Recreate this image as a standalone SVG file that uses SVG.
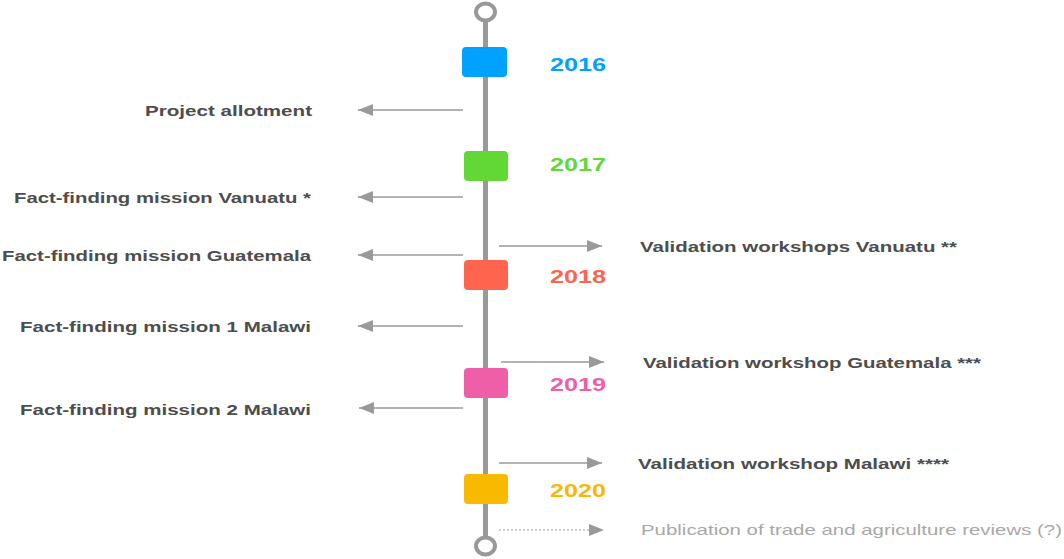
<svg xmlns="http://www.w3.org/2000/svg" width="1064" height="559" viewBox="0 0 1064 559">
  <style>
    .axis { stroke: #999999; stroke-width: 5; fill: none; }
    .cap { stroke: #999999; stroke-width: 4; fill: #ffffff; }
    .conn { stroke: #9a9a9a; stroke-width: 1.6; fill: none; }
    .dotted { stroke: #9a9a9a; stroke-width: 1.2; stroke-dasharray: 2 2; fill: none; }
    .label { font-family: "Liberation Sans", Arial, sans-serif; font-weight: bold; font-size: 15px; fill: #4d4d4d; }
    .faint { font-family: "Liberation Sans", Arial, sans-serif; font-size: 15px; fill: #a8a8a8; }
    .year { font-family: "Liberation Sans", Arial, sans-serif; font-weight: bold; font-size: 18px; }
  </style>
  <defs>
    <marker id="head" markerUnits="userSpaceOnUse" markerWidth="16" markerHeight="12" refX="15" refY="6" orient="auto">
      <path d="M0,0 L15,6 L0,12 Z" fill="#9a9a9a"/>
    </marker>
  </defs>

  <rect width="1064" height="559" fill="#ffffff"/>

  <!-- timeline axis -->
  <g id="axis">
    <line class="axis" x1="485.5" y1="21" x2="485.5" y2="537"/>
    <ellipse class="cap" cx="485.5" cy="12" rx="9.5" ry="8.5"/>
    <ellipse class="cap" cx="485.5" cy="546" rx="9.5" ry="8.5"/>
  </g>

  <!-- connectors -->
  <g id="connectors">
    <line class="conn" x1="463" y1="110" x2="358" y2="110" marker-end="url(#head)"/>
    <line class="conn" x1="463" y1="197" x2="358" y2="197" marker-end="url(#head)"/>
    <line class="conn" x1="463" y1="255" x2="358" y2="255" marker-end="url(#head)"/>
    <line class="conn" x1="463" y1="326" x2="358" y2="326" marker-end="url(#head)"/>
    <line class="conn" x1="463" y1="408" x2="359" y2="408" marker-end="url(#head)"/>
    <line class="conn" x1="499" y1="246" x2="602" y2="246" marker-end="url(#head)"/>
    <line class="conn" x1="501" y1="362" x2="604" y2="362" marker-end="url(#head)"/>
    <line class="conn" x1="499" y1="463" x2="602" y2="463" marker-end="url(#head)"/>
    <line class="dotted" x1="499" y1="530" x2="589" y2="530"/>
    <path d="M589,524 L604,530 L589,536 Z" fill="#9a9a9a"/>
  </g>

  <!-- year markers -->
  <g id="y2016">
    <rect x="462" y="47" width="45" height="30" rx="4" fill="#00a2ff"/>
    <text class="year" x="550" y="71" fill="#00a2ff" textLength="56" lengthAdjust="spacingAndGlyphs">2016</text>
  </g>
  <g id="y2017">
    <rect x="464" y="151" width="44" height="30" rx="4" fill="#61d836"/>
    <text class="year" x="550" y="171" fill="#61d836" textLength="56" lengthAdjust="spacingAndGlyphs">2017</text>
  </g>
  <g id="y2018">
    <rect x="464" y="260" width="44" height="30" rx="4" fill="#ff644e"/>
    <text class="year" x="550" y="283" fill="#ff644e" textLength="56" lengthAdjust="spacingAndGlyphs">2018</text>
  </g>
  <g id="y2019">
    <rect x="464" y="368" width="44" height="30" rx="4" fill="#ef5fa7"/>
    <text class="year" x="550" y="391" fill="#ef5fa7" textLength="56" lengthAdjust="spacingAndGlyphs">2019</text>
  </g>
  <g id="y2020">
    <rect x="464" y="474" width="44" height="30" rx="4" fill="#f8ba00"/>
    <text class="year" x="550" y="497" fill="#f8ba00" textLength="56" lengthAdjust="spacingAndGlyphs">2020</text>
  </g>

  <!-- events before the axis -->
  <g id="e-allotment">
    <text class="label" x="145" y="116" textLength="167" lengthAdjust="spacingAndGlyphs">Project allotment</text>
  </g>
  <g id="e-ffm-vanuatu">
    <text class="label" x="14" y="203" textLength="297" lengthAdjust="spacingAndGlyphs">Fact-finding mission Vanuatu *</text>
  </g>
  <g id="e-ffm-guatemala">
    <text class="label" x="2" y="261" textLength="309" lengthAdjust="spacingAndGlyphs">Fact-finding mission Guatemala</text>
  </g>
  <g id="e-ffm1-malawi">
    <text class="label" x="20" y="332" textLength="291" lengthAdjust="spacingAndGlyphs">Fact-finding mission 1 Malawi</text>
  </g>
  <g id="e-ffm2-malawi">
    <text class="label" x="20" y="415" textLength="291" lengthAdjust="spacingAndGlyphs">Fact-finding mission 2 Malawi</text>
  </g>

  <!-- events after the axis -->
  <g id="e-vw-vanuatu">
    <text class="label" x="640" y="252" textLength="317" lengthAdjust="spacingAndGlyphs">Validation workshops Vanuatu **</text>
  </g>
  <g id="e-vw-guatemala">
    <text class="label" x="643" y="368" textLength="338" lengthAdjust="spacingAndGlyphs">Validation workshop Guatemala ***</text>
  </g>
  <g id="e-vw-malawi">
    <text class="label" x="638" y="469" textLength="311" lengthAdjust="spacingAndGlyphs">Validation workshop Malawi ****</text>
  </g>
  <g id="e-publication">
    <text class="faint" x="641" y="535" textLength="421" lengthAdjust="spacingAndGlyphs">Publication of trade and agriculture reviews (?)</text>
  </g>
</svg>
